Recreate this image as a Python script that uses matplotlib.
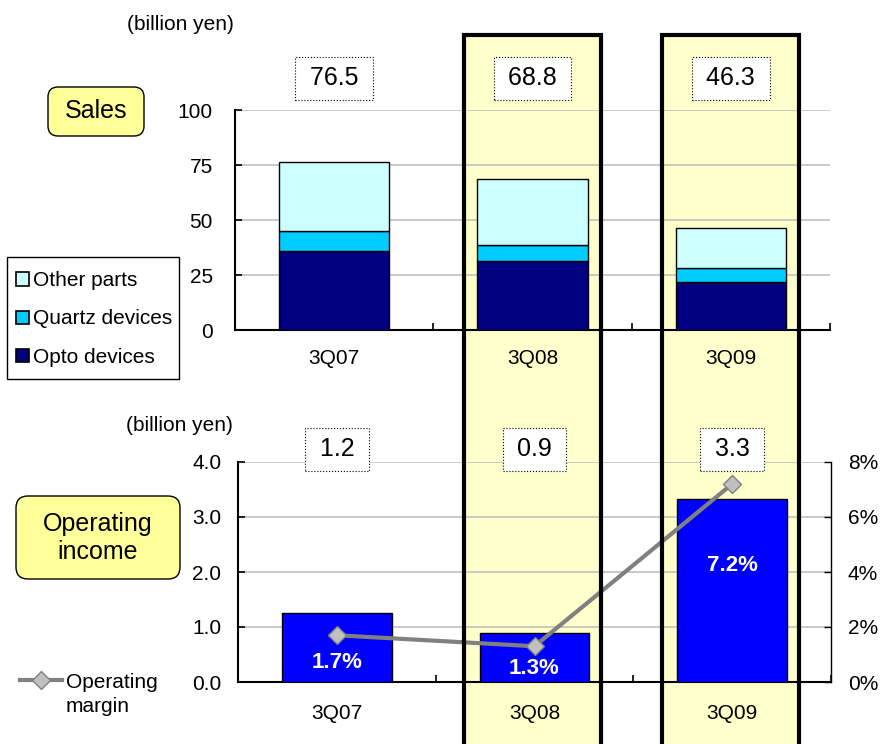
import matplotlib
matplotlib.use('Agg')
import matplotlib.pyplot as plt
from matplotlib.patches import Rectangle, FancyBboxPatch, Patch
from matplotlib.lines import Line2D
from matplotlib.transforms import blended_transform_factory

plt.rcParams['font.family'] = ['Liberation Sans', 'DejaVu Sans']

# 数据
quarters = ['3Q07', '3Q08', '3Q09']
opto = [36.0, 31.4, 21.8]
quartz = [9.2, 7.4, 6.4]
other = [31.3, 30.0, 18.1]
sales_total = ['76.5', '68.8', '46.3']
op_income = [1.25, 0.90, 3.33]
op_income_lbl = ['1.2', '0.9', '3.3']
op_margin = [1.7, 1.3, 7.2]
highlight = [1, 2]

W, H = 883, 744
fig = plt.figure(figsize=(W / 100, H / 100), dpi=100)

ax1 = fig.add_axes([235 / W, 1 - 330 / H, 595 / W, 220 / H])
ax2 = fig.add_axes([238 / W, 1 - 682 / H, 593 / W, 220 / H])
ax3 = ax2.twinx()
for a in (ax1, ax2, ax3):
    a.set_facecolor('none')

x = list(range(len(quarters)))
bw = 0.555

# 上图: 销售额堆叠柱
ax1.bar(x, opto, bw, color='#000080', edgecolor='black', lw=1, zorder=3)
ax1.bar(x, quartz, bw, bottom=opto, color='#00CCFF', edgecolor='black', lw=1, zorder=3)
bot2 = [a + b for a, b in zip(opto, quartz)]
ax1.bar(x, other, bw, bottom=bot2, color='#CCFFFF', edgecolor='black', lw=1, zorder=3)
ax1.set_ylim(0, 100)
ax1.set_yticks([0, 25, 50, 75, 100])
ax1.set_xlim(-0.5, 2.5)

# 下图: 营业利润 + 利润率
ax2.bar(x, op_income, bw, color='#0000FF', edgecolor='black', lw=1, zorder=3)
ax2.set_ylim(0, 4)
ax2.set_yticks([0, 1, 2, 3, 4])
ax2.set_yticklabels(['0.0', '1.0', '2.0', '3.0', '4.0'])
ax2.set_xlim(-0.5, 2.5)
ax3.plot(x, op_margin, color='#808080', lw=3, marker='D', ms=9,
         mfc='#C0C0C0', mec='#808080', mew=1, zorder=4)
ax3.set_ylim(0, 8)
ax3.set_yticks([0, 2, 4, 6, 8])
ax3.set_yticklabels(['0%', '2%', '4%', '6%', '8%'])

for a in (ax1, ax2):
    a.grid(axis='y', color='#C0C0C0', lw=1.2, zorder=0)
    a.set_axisbelow(True)
    a.set_xticks(x)
    a.set_xticklabels(quarters)
    a.set_xticks([0.5, 1.5, 2.5], minor=True)
    a.tick_params(axis='x', which='major', length=0, labelsize=15)
    a.tick_params(axis='x', which='minor', direction='in', length=5, width=1.2)
    a.tick_params(axis='y', direction='in', length=5, width=1.2, labelsize=15)
    a.spines['top'].set_visible(False)
    a.spines['right'].set_visible(False)
    a.spines['left'].set_linewidth(1.5)
    a.spines['bottom'].set_linewidth(1.5)
ax1.tick_params(axis='y', pad=16)
ax1.tick_params(axis='x', which='major', pad=14)
ax2.tick_params(axis='y', pad=12)
ax2.tick_params(axis='x', which='major', pad=16)
ax3.spines['top'].set_visible(False)
ax3.spines['left'].set_visible(False)
ax3.spines['bottom'].set_visible(False)
ax3.spines['right'].set_linewidth(1)
ax3.tick_params(axis='y', direction='in', length=5, width=1, labelsize=15, pad=12)

# 百分比标签
pct_y = [0.36, 0.25, 2.12]
for i, v in enumerate(op_margin):
    ax2.text(i, pct_y[i], f'{v:.1f}%', color='white', fontsize=16, fontweight='bold',
             ha='center', va='center', zorder=5)

# 数值框
box = dict(boxstyle='square,pad=0.38', fc='white', ec='black', ls=':', lw=0.8)
for i, s in enumerate(sales_total):
    ax1.text(i, 1.145, f'\u2009{s}\u2009', transform=ax1.get_xaxis_transform(),
             fontsize=18, ha='center', va='center', zorder=6, bbox=box)
for i, s in enumerate(op_income_lbl):
    ax2.text(i, 1.059, f'\u2009{s}\u2009', transform=ax2.get_xaxis_transform(),
             fontsize=18, ha='center', va='center', zorder=6, bbox=box)

# 高亮列
tr = blended_transform_factory(ax1.transData, fig.transFigure)
for i in highlight:
    fig.add_artist(Rectangle((i - 0.345, -0.1), 0.69, 1.1 - 35 / H, transform=tr,
                             fc='#FFFFCC', ec='none', zorder=-1))
    fig.add_artist(Rectangle((i - 0.345, -0.1), 0.69, 1.1 - 35 / H, transform=tr,
                             fc='none', ec='black', lw=3, zorder=10))

# 标题框
din = fig.dpi_scale_trans
fig.add_artist(FancyBboxPatch((0.48, 6.08), 0.96, 0.49, transform=din,
                              boxstyle='round,pad=0,rounding_size=0.1',
                              fc='#FFFF99', ec='black', lw=1))
fig.text(0.96, 6.325, 'Sales', transform=din, fontsize=18, ha='center', va='center')
fig.add_artist(FancyBboxPatch((0.16, 1.65), 1.64, 0.83, transform=din,
                              boxstyle='round,pad=0,rounding_size=0.12',
                              fc='#FFFF99', ec='black', lw=1))
fig.text(0.98, 2.06, 'Operating\nincome', transform=din, fontsize=18,
         ha='center', va='center', linespacing=1.22)

fig.text(180 / W, 1 - 25 / H, '(billion yen)', fontsize=15, ha='center', va='center')
fig.text(179 / W, 1 - 425 / H, '(billion yen)', fontsize=15, ha='center', va='center')

# 图例
fig.add_artist(Rectangle((0.07, 3.65), 1.72, 1.22, transform=din,
                         fc='white', ec='black', lw=1, zorder=2))
leg_handles = [Patch(fc='#CCFFFF', ec='black', lw=1.2),
               Patch(fc='#00CCFF', ec='black', lw=1.2),
               Patch(fc='#000080', ec='black', lw=1.2)]
leg = fig.legend(leg_handles, ['Other parts', 'Quartz devices', 'Opto devices'],
                 loc='upper left', bbox_to_anchor=(8 / W, 1 - 263 / H), fontsize=15,
                 handlelength=0.6, handleheight=0.6, handletextpad=0.2,
                 labelspacing=0.92, borderpad=0.4, borderaxespad=0, frameon=False)
leg.set_zorder(3)

m_handle = Line2D([], [], color='#808080', lw=3, marker='D', ms=9,
                  mfc='#C0C0C0', mec='#808080')
fig.legend([m_handle], ['Operating'], loc='center left',
           bbox_to_anchor=(20 / W, 1 - 682 / H), fontsize=15, frameon=False,
           handlelength=2.0, handletextpad=0.2, borderpad=0, borderaxespad=0)
fig.text(66 / W, 1 - 706 / H, 'margin', fontsize=15, ha='left', va='center')

fig.savefig('out.png', dpi=100)
